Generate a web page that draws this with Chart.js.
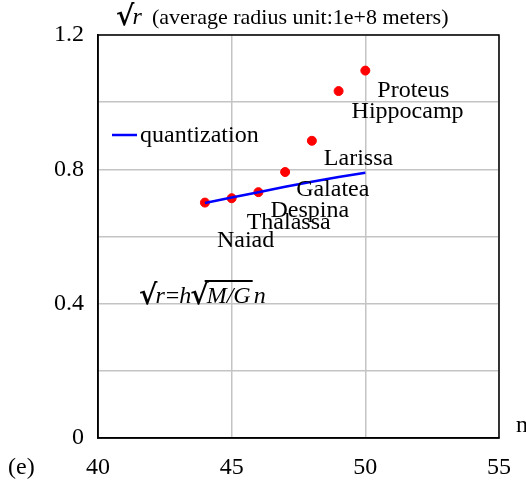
<!DOCTYPE html>
<html>
<head>
<meta charset="utf-8">
<script src="https://cdn.jsdelivr.net/npm/chart.js@4.4.1/dist/chart.umd.min.js"></script>
<style>
  html, body { margin: 0; padding: 0; background: #ffffff; }
  #wrap { width: 526px; height: 490px; position: relative; }
</style>
</head>
<body>
<div id="wrap"><canvas id="c" width="526" height="490"></canvas></div>
<script>
// ---- data ----
const nValues = [44, 45, 46, 47, 48, 49, 50];
const moonNames = ["Naiad", "Thalassa", "Despina", "Galatea", "Larissa", "Hippocamp", "Proteus"];
const observedSqrtR = [0.701, 0.714, 0.732, 0.792, 0.885, 1.033, 1.094];
const quantizedSqrtR = [0.700, 0.716, 0.732, 0.748, 0.763, 0.777, 0.790];
const yTickLabels = ["0", "0.4", "0.8", "1.2"];
const xTickLabels = ["40", "45", "50", "55"];

const SERIF = '"Liberation Serif", "Times New Roman", serif';
const RAD = '"DejaVu Serif", serif';

const obsPoints = nValues.map((n, i) => ({ x: n, y: observedSqrtR[i] }));
const qPoints = nValues.map((n, i) => ({ x: n, y: quantizedSqrtR[i] }));

// label offsets (pixels, relative to the point) - style only
const labelOffsets = [[12, 44], [15, 31], [12, 25], [11, 24], [12, 24], [13, 27], [12, 26]];

const decorPlugin = {
  id: 'decor',
  beforeDatasetsDraw(chart) {
    const { ctx, chartArea: a } = chart;
    ctx.save();
    ctx.strokeStyle = '#000';
    ctx.lineWidth = 1.5;
    ctx.strokeRect(a.left, a.top, a.right - a.left, a.bottom - a.top);
    ctx.restore();
  },
  afterDatasetsDraw(chart) {
    const { ctx } = chart;
    const meta = chart.getDatasetMeta(1);
    ctx.save();
    ctx.fillStyle = '#000';
    ctx.textBaseline = 'alphabetic';
    ctx.textAlign = 'left';
    ctx.font = '24px ' + SERIF;
    meta.data.forEach((pt, i) => {
      const off = labelOffsets[i];
      ctx.fillText(moonNames[i], pt.x + off[0], pt.y + off[1]);
    });
    ctx.restore();
  },
  afterDraw(chart) {
    const { ctx } = chart;
    ctx.save();
    ctx.fillStyle = '#000';
    ctx.textBaseline = 'alphabetic';
    ctx.textAlign = 'left';

    // title
    let x = 116, y = 24;
    ctx.font = 'bold 28px ' + RAD;
    ctx.fillText('\u221A', x, y + 1);
    x += ctx.measureText('\u221A').width - 2;
    ctx.font = 'italic 24px ' + SERIF;
    ctx.fillText('r', x, y);
    ctx.font = '22px ' + SERIF;
    ctx.fillText('(average radius unit:1e+8 meters)', 152, y);

    // legend
    const ds = chart.data.datasets[0];
    ctx.strokeStyle = ds.borderColor;
    ctx.lineWidth = 2.5;
    ctx.beginPath();
    ctx.moveTo(112, 135);
    ctx.lineTo(137, 135);
    ctx.stroke();
    ctx.font = '24px ' + SERIF;
    ctx.fillText(ds.label, 140, 142);

    // formula
    x = 139; y = 303;
    ctx.font = 'bold 28px ' + RAD;
    ctx.fillText('\u221A', x, y + 1); x += ctx.measureText('\u221A').width - 2;
    ctx.font = 'italic 24px ' + SERIF;
    ctx.fillText('r', x, y); x += ctx.measureText('r').width + 1;
    ctx.font = '24px ' + SERIF;
    ctx.fillText('=', x, y); x += ctx.measureText('=').width;
    ctx.font = 'italic 24px ' + SERIF;
    ctx.fillText('h', x, y); x += ctx.measureText('h').width - 1;
    ctx.font = 'bold 28px ' + RAD;
    const rw = ctx.measureText('\u221A').width;
    ctx.fillText('\u221A', x, y + 1); x += rw - 2;
    ctx.font = 'italic 24px ' + SERIF;
    const x0 = x;
    ctx.fillText('M/G', x, y); x += ctx.measureText('M/G').width + 2;
    ctx.strokeStyle = '#000';
    ctx.lineWidth = 2;
    ctx.beginPath();
    ctx.moveTo(x0 - 2, 281);
    ctx.lineTo(x, 281);
    ctx.stroke();
    ctx.fillText('n', x + 1, y);

    // axis title "n" and panel tag
    ctx.font = '24px ' + SERIF;
    ctx.fillText('n', 516, 432);
    ctx.fillText('(e)', 8, 474);
    ctx.restore();
  }
};

new Chart(document.getElementById('c'), {
  type: 'scatter',
  data: {
    datasets: [
      {
        type: 'line',
        label: 'quantization',
        data: qPoints,
        borderColor: '#0000ff',
        backgroundColor: '#0000ff',
        borderWidth: 2.5,
        pointRadius: 0,
        fill: false,
        tension: 0,
        order: 0
      },
      {
        label: 'observed',
        data: obsPoints,
        backgroundColor: '#ff0000',
        borderColor: '#ff0000',
        pointRadius: 4.5,
        pointHoverRadius: 4.5,
        order: 1
      }
    ]
  },
  options: {
    responsive: false,
    animation: false,
    events: [],
    layout: { padding: { top: 35, right: 26, left: 0, bottom: 0 } },
    plugins: { legend: { display: false }, tooltip: { enabled: false }, title: { display: false } },
    scales: {
      x: {
        type: 'linear',
        min: 40, max: 55,
        afterFit(s) { s.height = 52; },
        ticks: {
          stepSize: 5,
          color: '#000',
          font: { family: SERIF, size: 24 },
          padding: 15,
          maxRotation: 0,
          callback: (v) => { const i = xTickLabels.indexOf(String(v)); return i >= 0 ? xTickLabels[i] : ''; }
        },
        grid: { color: '#c4c4c4', lineWidth: 1.5, drawTicks: false },
        border: { display: true, color: '#000', width: 1.5 }
      },
      y: {
        type: 'linear',
        min: 0, max: 1.2,
        afterFit(s) { s.width = 98; },
        ticks: {
          stepSize: 0.2,
          color: '#000',
          font: { family: SERIF, size: 24 },
          padding: 14,
          autoSkip: false,
          callback: (v) => {
            const s = String(Math.round(v * 10) / 10);
            return yTickLabels.includes(s) ? s : '';
          }
        },
        grid: { color: '#c4c4c4', lineWidth: 1.5, drawTicks: false },
        border: { display: true, color: '#000', width: 1.5 }
      }
    }
  },
  plugins: [decorPlugin]
});
</script>
</body>
</html>
